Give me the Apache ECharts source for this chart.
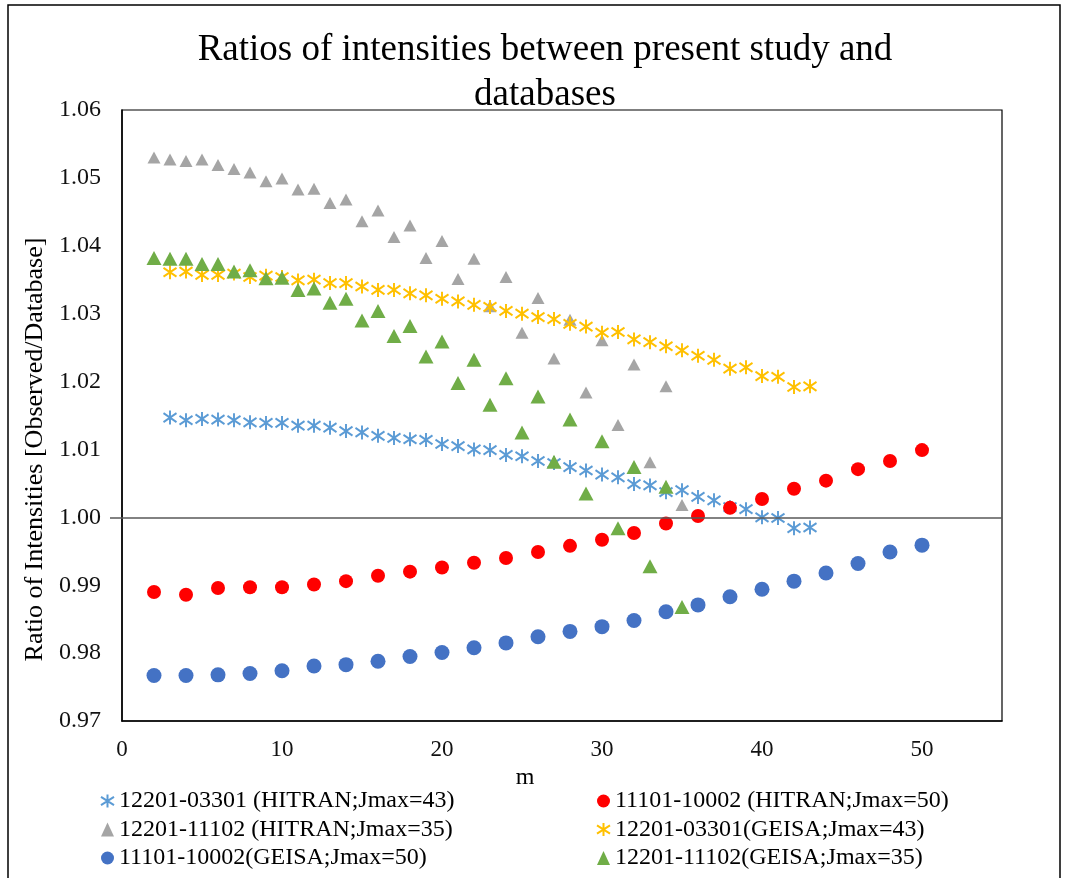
<!DOCTYPE html>
<html><head><meta charset="utf-8">
<script src="https://cdn.jsdelivr.net/npm/echarts@6/dist/echarts.min.js"></script>
<style>html,body{margin:0;padding:0;background:#fff}#c{width:1067px;height:878px}</style>
</head><body><div id="c"></div>
<script>
// x values (m)
const mStar = [3,4,5,6,7,8,9,10,11,12,13,14,15,16,17,18,19,20,21,22,23,24,25,26,27,28,29,30,31,32,33,34,35,36,37,38,39,40,41,42,43];
const mCircle = [2,4,6,8,10,12,14,16,18,20,22,24,26,28,30,32,34,36,38,40,42,44,46,48,50];
const mTriangle = [2,3,4,5,6,7,8,9,10,11,12,13,14,15,16,17,18,19,20,21,22,23,24,25,26,27,28,29,30,31,32,33,34,35];

// series values
const hitran03301 = [1.0147,1.0143,1.0145,1.0144,1.0143,1.0140,1.0139,1.0139,1.0135,1.0135,1.0132,1.0127,1.0125,1.0120,1.0117,1.0115,1.0114,1.0108,1.0105,1.0100,1.0099,1.0092,1.0090,1.0083,1.0080,1.0074,1.0069,1.0063,1.0059,1.0049,1.0047,1.0037,1.0040,1.0030,1.0025,1.0015,1.0012,1.0000,0.9999,0.9984,0.9985];
const hitran10002 = [0.9890,0.9886,0.9896,0.9897,0.9897,0.9901,0.9906,0.9914,0.9920,0.9926,0.9933,0.9940,0.9949,0.9958,0.9967,0.9977,0.9991,1.0002,1.0014,1.0027,1.0042,1.0054,1.0071,1.0083,1.0099];
const hitran11102 = [1.0530,1.0527,1.0525,1.0527,1.0519,1.0513,1.0508,1.0495,1.0499,1.0483,1.0484,1.0463,1.0468,1.0436,1.0452,1.0413,1.0430,1.0382,1.0407,1.0351,1.0381,1.0311,1.0354,1.0272,1.0323,1.0234,1.0291,1.0184,1.0261,1.0136,1.0225,1.0081,1.0193,1.0018];
const geisa03301 = [1.0361,1.0362,1.0357,1.0357,1.0359,1.0354,1.0356,1.0354,1.0349,1.0350,1.0345,1.0345,1.0340,1.0335,1.0335,1.0330,1.0327,1.0322,1.0318,1.0313,1.0310,1.0304,1.0300,1.0295,1.0292,1.0285,1.0281,1.0272,1.0273,1.0262,1.0258,1.0252,1.0246,1.0238,1.0232,1.0219,1.0221,1.0208,1.0207,1.0192,1.0193];
const geisa10002 = [0.9767,0.9767,0.9768,0.9770,0.9774,0.9781,0.9783,0.9788,0.9795,0.9801,0.9808,0.9815,0.9824,0.9832,0.9839,0.9848,0.9861,0.9871,0.9883,0.9894,0.9906,0.9918,0.9932,0.9949,0.9959];
const geisa11102 = [1.0382,1.0381,1.0381,1.0373,1.0373,1.0362,1.0364,1.0352,1.0353,1.0335,1.0337,1.0316,1.0322,1.0290,1.0304,1.0267,1.0282,1.0237,1.0259,1.0198,1.0232,1.0166,1.0205,1.0125,1.0178,1.0082,1.0144,1.0035,1.0112,0.9984,1.0074,0.9928,1.0045,0.9868];

const seriesNames = [
  '12201-03301 (HITRAN;Jmax=43)',
  '11101-10002 (HITRAN;Jmax=50)',
  '12201-11102 (HITRAN;Jmax=35)',
  '12201-03301(GEISA;Jmax=43)',
  '11101-10002(GEISA;Jmax=50)',
  '12201-11102(GEISA;Jmax=35)'
];

const FONT = "'Liberation Serif','Times New Roman',serif";
const STAR = 'path://M5,0L5,10M0,1.8L10,8.2M0,8.2L10,1.8';
const zip = (xs, ys) => xs.map((x, i) => [x, ys[i]]);

const starStyle = c => ({color: 'rgba(0,0,0,0)', borderColor: c, borderWidth: 2, opacity: 1});

const chart = echarts.init(document.getElementById('c'), null, {renderer: 'canvas'});
chart.setOption({
  animation: false,
  backgroundColor: '#fff',
  title: {
    text: 'Ratios of intensities between present study and\ndatabases',
    left: 540, top: 23, textAlign: 'center',
    textStyle: {fontFamily: FONT, fontSize: 37, fontWeight: 'normal', color: '#000', lineHeight: 45}
  },
  graphic: [{
    type: 'rect', silent: true, z: -1,
    shape: {x: 8, y: 5, width: 1052, height: 900},
    style: {fill: 'none', stroke: '#000', lineWidth: 1.5}
  }],
  grid: {left: 122, top: 110, width: 880, height: 611, show: true, borderColor: '#000', borderWidth: 1.2, containLabel: false},
  xAxis: {
    type: 'value', min: 0, max: 55, interval: 10,
    name: 'm', nameLocation: 'middle', nameGap: 37,
    nameTextStyle: {fontFamily: FONT, fontSize: 24, color: '#000', padding: [0, 74, 0, 0]},
    axisLine: {show: true, lineStyle: {color: '#000', width: 1.5}},
    axisTick: {show: false},
    splitLine: {show: false},
    axisLabel: {fontFamily: FONT, fontSize: 23, color: '#111', margin: 17, showMaxLabel: false}
  },
  yAxis: {
    type: 'value', min: 0.97, max: 1.06, interval: 0.01,
    name: 'Ratio of Intensities [Observed/Database]', nameLocation: 'middle', nameGap: 72,
    nameTextStyle: {fontFamily: FONT, fontSize: 26, color: '#000', padding: [0, 68, 0, 0]},
    axisLine: {show: true, lineStyle: {color: '#000', width: 1.5}},
    axisTick: {show: true, customValues: [1.0], length: 12, lineStyle: {color: '#595959', width: 1.5}},
    splitLine: {show: false},
    axisLabel: {fontFamily: FONT, fontSize: 24, color: '#111', margin: 21, formatter: v => v.toFixed(2)}
  },
  legend: [
    {
      orient: 'vertical', left: 95, top: 784, itemWidth: 13, itemHeight: 14, itemGap: 4.5,
      textStyle: {fontFamily: FONT, fontSize: 24, color: '#000'},
      data: [seriesNames[0], seriesNames[2], seriesNames[4]]
    },
    {
      orient: 'vertical', left: 591, top: 784, itemWidth: 13, itemHeight: 14, itemGap: 4.5,
      textStyle: {fontFamily: FONT, fontSize: 24, color: '#000'},
      data: [seriesNames[1], seriesNames[3], seriesNames[5]]
    }
  ],
  series: [
    {
      name: seriesNames[0], type: 'scatter', data: zip(mStar, hitran03301),
      symbol: STAR, symbolSize: [13, 14], itemStyle: starStyle('#5B9BD5'),
      markLine: {
        silent: true, symbol: ['none', 'none'], label: {show: false},
        lineStyle: {color: '#595959', width: 1.5, type: 'solid'},
        data: [{yAxis: 1.0}]
      }
    },
    {
      name: seriesNames[1], type: 'scatter', data: zip(mCircle, hitran10002),
      symbol: 'circle', symbolSize: 14, itemStyle: {color: '#FF0000', opacity: 1}
    },
    {
      name: seriesNames[2], type: 'scatter', data: zip(mTriangle, hitran11102),
      symbol: 'triangle', symbolSize: [13, 12], itemStyle: {color: '#A5A5A5', opacity: 1}
    },
    {
      name: seriesNames[3], type: 'scatter', data: zip(mStar, geisa03301),
      symbol: STAR, symbolSize: [13, 14], itemStyle: starStyle('#FFC000')
    },
    {
      name: seriesNames[4], type: 'scatter', data: zip(mCircle, geisa10002),
      symbol: 'circle', symbolSize: 15, itemStyle: {color: '#4472C4', opacity: 1}
    },
    {
      name: seriesNames[5], type: 'scatter', data: zip(mTriangle, geisa11102),
      symbol: 'triangle', symbolSize: [15, 14], itemStyle: {color: '#70AD47', opacity: 1}
    }
  ]
});
</script>
</body></html>
